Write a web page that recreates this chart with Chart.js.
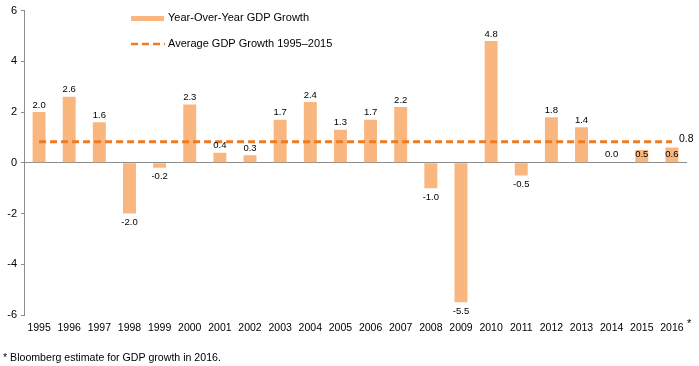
<!DOCTYPE html>
<html>
<head>
<meta charset="utf-8">
<script src="https://cdn.jsdelivr.net/npm/chart.js@4.4.1/dist/chart.umd.min.js"></script>
<style>
  html, body { margin: 0; padding: 0; background: #fff; }
  #wrap { width: 699px; height: 366px; position: relative; }
</style>
</head>
<body>
<div id="wrap"><canvas id="chart"></canvas></div>
<script>
const years = ['1995', '1996', '1997', '1998', '1999', '2000', '2001', '2002', '2003', '2004', '2005',
  '2006', '2007', '2008', '2009', '2010', '2011', '2012', '2013', '2014', '2015', '2016'];
const gdpGrowth = [2.0, 2.6, 1.6, -2.0, -0.2, 2.3, 0.4, 0.3, 1.7, 2.4, 1.3,
  1.7, 2.2, -1.0, -5.5, 4.8, -0.5, 1.8, 1.4, 0.0, 0.5, 0.6];
const avgGrowth = 0.83;
const yTicks = [-6, -4, -2, 0, 2, 4, 6];
const insideBaseYears = ['2014', '2015', '2016'];

const barColor = '#F9B77F';
const lineColor = '#EE7B22';
const axisGrey = '#8C8C8C';
const fontFamily = '"Liberation Sans", Arial, sans-serif';

// labels, legend, asterisk and footnote
const extras = {
  id: 'extras',
  afterDatasetsDraw(chart) {
    const ctx = chart.ctx;
    const x = chart.scales.x, y = chart.scales.y;
    ctx.save();
    ctx.fillStyle = '#000';
    ctx.textAlign = 'center';
    ctx.textBaseline = 'middle';
    ctx.font = '9.5px ' + fontFamily;
    gdpGrowth.forEach((v, i) => {
      const px = x.getPixelForValue(i);
      let py;
      if (insideBaseYears.includes(years[i])) py = y.getPixelForValue(0) - 8;
      else if (v >= 0) py = y.getPixelForValue(v) - 7;
      else py = y.getPixelForValue(v) + 9;
      ctx.fillText(v.toFixed(1), px, py);
    });

    // average value at end of line
    const lineMeta = chart.getDatasetMeta(1);
    const last = lineMeta.data[lineMeta.data.length - 1];
    ctx.font = '10.5px ' + fontFamily;
    ctx.textAlign = 'left';
    ctx.fillText(avgGrowth.toFixed(1), last.x + 7, last.y - 3);

    // asterisk on 2016
    ctx.font = '11px ' + fontFamily;
    ctx.fillText('*', x.getPixelForValue(years.length - 1) + 15, 324);

    // legend
    ctx.fillStyle = barColor;
    ctx.fillRect(131, 16, 33, 5);
    ctx.strokeStyle = lineColor;
    ctx.lineWidth = 2.5;
    ctx.setLineDash([7, 4]);
    ctx.beginPath();
    ctx.moveTo(131, 44);
    ctx.lineTo(165, 44);
    ctx.stroke();
    ctx.setLineDash([]);
    ctx.fillStyle = '#000';
    ctx.font = '11px ' + fontFamily;
    ctx.fillText('Year-Over-Year GDP Growth', 168, 18);
    ctx.fillText('Average GDP Growth 1995\u20132015', 168, 44);

    // footnote
    ctx.font = '10.6px ' + fontFamily;
    ctx.fillText('* Bloomberg estimate for GDP growth in 2016.', 3, 358);
    ctx.restore();
  }
};

new Chart(document.getElementById('chart'), {
  type: 'bar',
  data: {
    labels: years,
    datasets: [
      {
        type: 'bar',
        label: 'Year-Over-Year GDP Growth',
        data: gdpGrowth,
        backgroundColor: barColor,
        categoryPercentage: 1,
        barPercentage: 0.43,
        order: 2
      },
      {
        type: 'line',
        label: 'Average GDP Growth 1995\u20132015',
        data: years.map(() => avgGrowth),
        borderColor: lineColor,
        borderWidth: 3,
        borderDash: [7, 4],
        pointRadius: 0,
        fill: false,
        order: 1
      }
    ]
  },
  options: {
    responsive: true,
    maintainAspectRatio: false,
    animation: false,
    layout: { padding: { top: 6, right: 12, bottom: 31, left: 0 } },
    plugins: {
      legend: { display: false },
      tooltip: { enabled: false }
    },
    scales: {
      x: {
        grid: { display: false, drawTicks: false },
        border: { display: false },
        ticks: {
          color: '#000',
          font: { family: fontFamily, size: 10.5 },
          maxRotation: 0,
          autoSkip: false,
          padding: 7
        },
        afterFit(scale) { scale.height = 20; }
      },
      y: {
        min: -6,
        max: 6,
        afterBuildTicks(scale) { scale.ticks = yTicks.map(v => ({ value: v })); },
        afterFit(scale) { scale.width = 24; },
        border: { display: true, color: axisGrey, width: 1 },
        grid: {
          drawOnChartArea: true,
          color: c => (c.tick && c.tick.value === 0 ? axisGrey : 'rgba(0,0,0,0)'),
          tickColor: axisGrey,
          tickLength: 3
        },
        ticks: {
          color: '#000',
          font: { family: fontFamily, size: 11 },
          padding: 4
        }
      }
    }
  },
  plugins: [extras]
});
</script>
</body>
</html>
